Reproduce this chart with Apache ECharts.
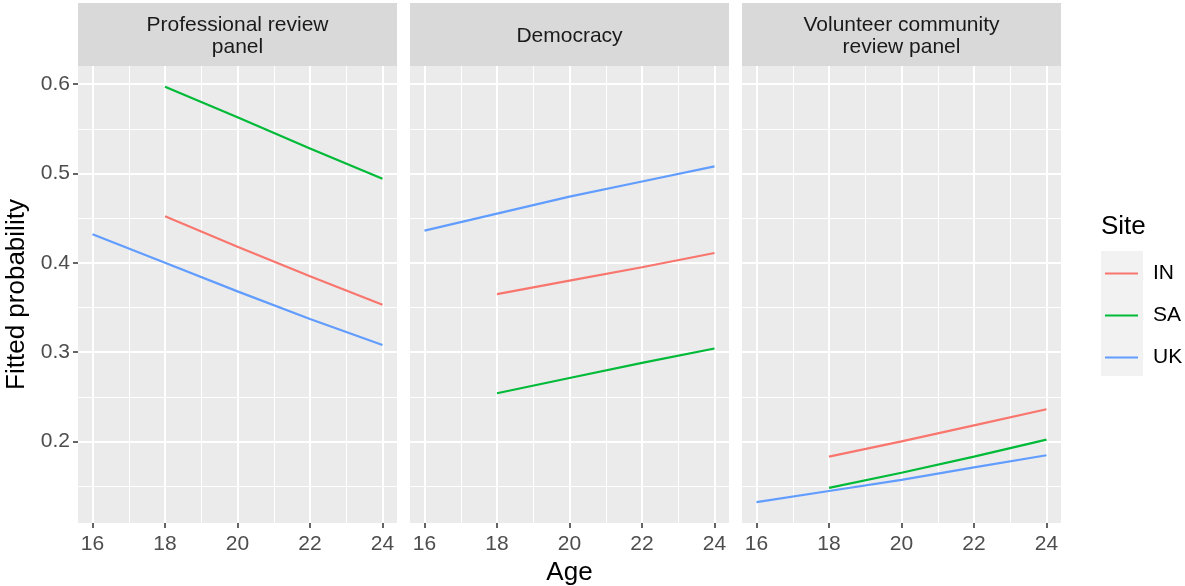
<!DOCTYPE html>
<html>
<head>
<meta charset="utf-8">
<script src="https://cdn.jsdelivr.net/npm/echarts@6/dist/echarts.min.js"></script>
<style>html,body{margin:0;padding:0;background:#fff;}#c{width:1185px;height:586px;}</style>
</head>
<body>
<div id="c"></div>
<script>
// ---- data ----
const facets = ["Professional review\npanel", "Democracy", "Volunteer community\nreview panel"];
const sites = ["IN", "SA", "UK"];
const siteColors = ["#F8766D", "#00BA38", "#619CFF"];
const ages18 = [18, 20, 22, 24];
const ages16 = [16, 18, 20, 22, 24];
// Professional review panel
const profIN = [0.452, 0.418, 0.385, 0.353];
const profSA = [0.597, 0.563, 0.528, 0.494];
const profUK = [0.432, 0.400, 0.368, 0.337, 0.308];
// Democracy
const demoIN = [0.365, 0.380, 0.395, 0.411];
const demoSA = [0.254, 0.271, 0.288, 0.304];
const demoUK = [0.436, 0.455, 0.474, 0.491, 0.508];
// Volunteer community review panel
const volIN = [0.183, 0.200, 0.218, 0.236];
const volSA = [0.148, 0.165, 0.183, 0.202];
const volUK = [0.132, 0.1445, 0.157, 0.171, 0.1845];
// axis ticks
const xTicks = [16, 18, 20, 22, 24];
const xMinor = [17, 19, 21, 23];
const yTicks = [0.2, 0.3, 0.4, 0.5, 0.6];
const yMinor = [0.15, 0.25, 0.35, 0.45, 0.55];

const facetData = [
  [[ages18, profIN], [ages18, profSA], [ages16, profUK]],
  [[ages18, demoIN], [ages18, demoSA], [ages16, demoUK]],
  [[ages18, volIN], [ages18, volSA], [ages16, volUK]]
];

// ---- layout ----
const panelLeft = [78, 410, 742];
const panelW = 319, panelTop = 66, panelH = 457;
const stripTop = 3, stripH = 63;
const FONT = "Liberation Sans, Arial, Helvetica, sans-serif";

const grids = [], xAxes = [], yAxes = [], series = [], graphics = [];
for (let i = 0; i < 3; i++) {
  grids.push({left: panelLeft[i], top: panelTop, width: panelW, height: panelH,
    show: true, backgroundColor: "#EBEBEB", borderWidth: 0, containLabel: false});
  xAxes.push({type: "value", gridIndex: i, min: 15.6, max: 24.4,
    axisLine: {show: false}, splitLine: {show: false},
    axisTick: {show: true, length: 5, customValues: xTicks, lineStyle: {color: "#333333", width: 1.5}},
    axisLabel: {customValues: xTicks, color: "#4D4D4D", fontSize: 21, fontFamily: FONT, margin: 11}});
  yAxes.push({type: "value", gridIndex: i, min: 0.1087, max: 0.6203,
    axisLine: {show: false}, splitLine: {show: false},
    axisTick: {show: i === 0, length: 5, customValues: yTicks, lineStyle: {color: "#333333", width: 1.5}},
    axisLabel: {show: i === 0, customValues: yTicks, color: "#4D4D4D", fontSize: 21, fontFamily: FONT, margin: 8,
      formatter: v => v.toFixed(1)}});
  // grid lines via markLine (minor then major)
  series.push({type: "line", xAxisIndex: i, yAxisIndex: i, data: [], z: 1, silent: true,
    markLine: {z: 1, silent: true, symbol: ["none", "none"], label: {show: false}, animation: false,
      lineStyle: {color: "#FFFFFF", type: "solid", width: 1},
      emphasis: {disabled: true},
      data: xMinor.map(v => ({xAxis: v})).concat(yMinor.map(v => ({yAxis: v})))}});
  series.push({type: "line", xAxisIndex: i, yAxisIndex: i, data: [], z: 1, silent: true,
    markLine: {z: 1, silent: true, symbol: ["none", "none"], label: {show: false}, animation: false,
      lineStyle: {color: "#FFFFFF", type: "solid", width: 2},
      emphasis: {disabled: true},
      data: xTicks.map(v => ({xAxis: v})).concat(yTicks.map(v => ({yAxis: v})))}});
  for (let s = 0; s < 3; s++) {
    const [xs, ys] = facetData[i][s];
    series.push({type: "line", name: sites[s], xAxisIndex: i, yAxisIndex: i, z: 3,
      data: xs.map((x, k) => [x, ys[k]]), showSymbol: false, symbol: "none", smooth: false,
      lineStyle: {color: siteColors[s], width: 2.2}, itemStyle: {color: siteColors[s]}, animation: false});
  }
  // strip
  graphics.push({type: "rect", shape: {x: panelLeft[i], y: stripTop, width: panelW, height: stripH},
    style: {fill: "#D9D9D9"}, z: 0});
  graphics.push({type: "text", x: panelLeft[i] + panelW / 2, y: stripTop + stripH / 2 + 2,
    style: {text: facets[i], fill: "#1A1A1A", font: "21px " + FONT, align: "center",
      verticalAlign: "middle", lineHeight: 22}, z: 1});
}

// axis titles
graphics.push({type: "text", x: 17, y: panelTop + panelH / 2, rotation: Math.PI / 2,
  style: {text: "Fitted probability", fill: "#000", font: "26px " + FONT, align: "center", verticalAlign: "middle"}});
graphics.push({type: "text", x: (panelLeft[0] + panelLeft[2] + panelW) / 2, y: 573,
  style: {text: "Age", fill: "#000", font: "26px " + FONT, align: "center", verticalAlign: "middle"}});
// legend title and key background
graphics.push({type: "text", x: 1101, y: 227,
  style: {text: "Site", fill: "#000", font: "26px " + FONT, align: "left", verticalAlign: "middle"}});
graphics.push({type: "rect", shape: {x: 1101, y: 251, width: 42, height: 125}, style: {fill: "#F2F2F2"}, z: 0});

const chart = echarts.init(document.getElementById("c"), null, {renderer: "canvas"});
chart.setOption({
  animation: false,
  backgroundColor: "#FFFFFF",
  grid: grids, xAxis: xAxes, yAxis: yAxes, series: series,
  graphic: graphics,
  legend: {data: sites, orient: "vertical", left: 1105, top: 263, padding: 0, itemWidth: 33, itemHeight: 14, itemGap: 21,
    icon: "path://M0,6 L33,6 L33,8 L0,8 Z", selectedMode: false,
    textStyle: {fontSize: 21, fontFamily: FONT, color: "#000", padding: [0, 0, 0, 10]},
    itemStyle: {borderWidth: 0}}
});
</script>
</body>
</html>
